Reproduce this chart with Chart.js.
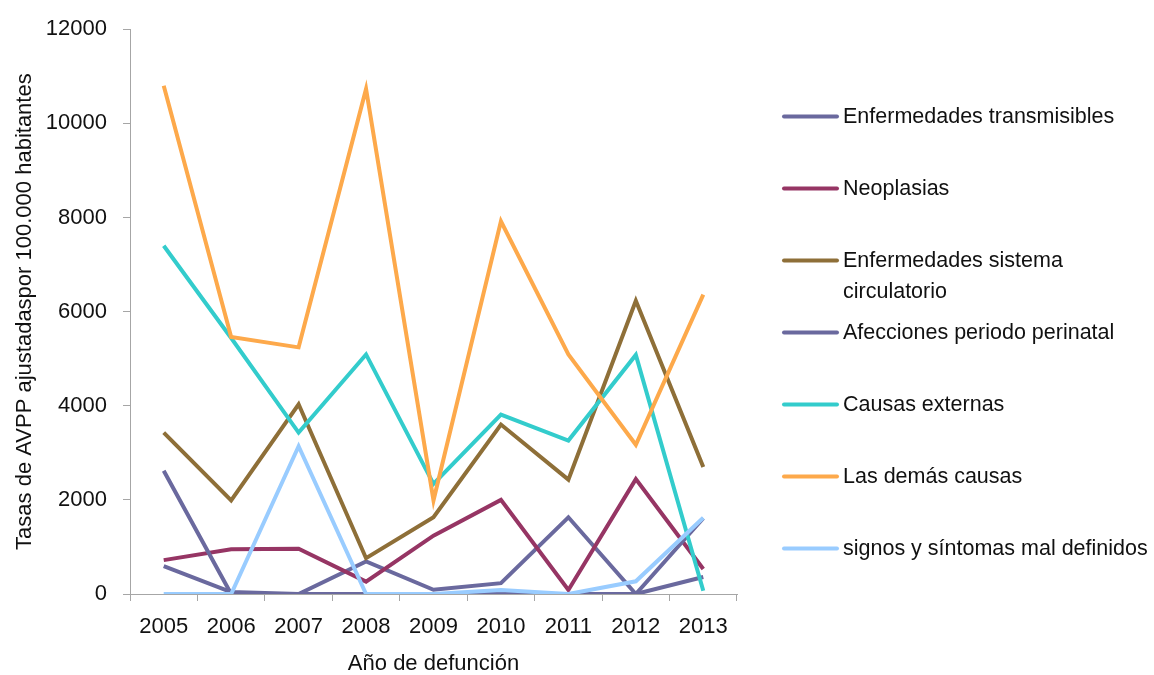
<!DOCTYPE html>
<html lang="es">
<head>
<meta charset="utf-8">
<title>Tasas de AVPP por grandes causas</title>
<script src="https://cdn.jsdelivr.net/npm/chart.js@4.4.1/dist/chart.umd.min.js"></script>
<style>
  html, body { margin: 0; padding: 0; background: #ffffff; }
  #wrap { width: 1154px; height: 675px; }
</style>
</head>
<body>
<div id="wrap"><canvas id="chart" width="1154" height="675"></canvas></div>
<script>
// Years of death (x categories)
const years = ['2005', '2006', '2007', '2008', '2009', '2010', '2011', '2012', '2013'];

// Adjusted YLL rates per 100.000 inhabitants, by cause group
const transmisibles = [590, 40, 0, 690, 90, 230, 1630, 0, 360];
const neoplasias    = [720, 950, 960, 262, 1240, 2000, 85, 2440, 530];
const circulatorio  = [3430, 1990, 4030, 760, 1630, 3600, 2430, 6230, 2700];
const perinatal     = [2620, 0, 0, 0, 0, 0, 0, 0, 1610];
const externas      = [7400, 5440, 3430, 5090, 2340, 3810, 3260, 5080, 70];
const demas         = [10800, 5460, 5240, 10730, 1990, 7920, 5090, 3170, 6360];
const signos        = [0, 0, 3140, 0, 0, 85, 0, 270, 1620];

// Y-axis tick values
const yTicks = [0, 2000, 4000, 6000, 8000, 10000, 12000];

const seriesLabels = [
  'Enfermedades transmisibles',
  'Neoplasias',
  'Enfermedades sistema circulatorio',
  'Afecciones periodo perinatal',
  'Causas externas',
  'Las demás causas',
  'signos y síntomas mal definidos'
];
const seriesValues = [transmisibles, neoplasias, circulatorio, perinatal, externas, demas, signos];
const seriesColors = ['#6a699e', '#963564', '#8e6f38', '#6a699e', '#33cccc', '#fda94b', '#99ccff'];

const FAMILY = "'Liberation Sans', Arial, sans-serif";
const FS = 22;
const LEGEND_FS = 21.5;
const TEXT = '#111111';
const AXIS = '#a6a6a6';

const datasets = seriesLabels.map((label, i) => ({
  label,
  data: seriesValues[i],
  borderColor: seriesColors[i],
  backgroundColor: seriesColors[i],
  borderWidth: 4,
  pointRadius: 0,
  pointHoverRadius: 0,
  tension: 0,
  fill: false,
  borderJoinStyle: 'miter',
  // later series are painted over earlier ones
  order: seriesLabels.length - i
}));

// Legend on the right, one entry per series with word wrapping
const sideLegend = {
  id: 'sideLegend',
  afterDraw(chart) {
    const ctx = chart.ctx;
    const lineX0 = 784, lineX1 = 837, textX = 843;
    const firstY = 116.5, stepY = 72, lineGap = 31, maxW = 318;
    ctx.save();
    ctx.font = LEGEND_FS + 'px ' + FAMILY;
    ctx.textBaseline = 'middle';
    ctx.textAlign = 'left';
    chart.data.datasets.forEach((ds, i) => {
      const y = firstY + i * stepY;
      ctx.strokeStyle = ds.borderColor;
      ctx.lineWidth = 4;
      ctx.lineCap = 'round';
      ctx.beginPath();
      ctx.moveTo(lineX0, y);
      ctx.lineTo(lineX1, y);
      ctx.stroke();
      // wrap label into lines that fit the legend width
      const words = ds.label.split(' ');
      const lines = [];
      let cur = '';
      words.forEach(w => {
        const test = cur ? cur + ' ' + w : w;
        if (cur && ctx.measureText(test).width > maxW) { lines.push(cur); cur = w; }
        else cur = test;
      });
      if (cur) lines.push(cur);
      ctx.fillStyle = TEXT;
      lines.forEach((ln, k) => ctx.fillText(ln, textX, y + k * lineGap + 1));
    });
    ctx.restore();
  }
};

new Chart(document.getElementById('chart'), {
  type: 'line',
  data: { labels: years, datasets },
  options: {
    responsive: false,
    animation: false,
    devicePixelRatio: 1,
    layout: { padding: { top: 27, right: 417, bottom: 0, left: 0 } },
    plugins: {
      legend: { display: false },
      tooltip: { enabled: false }
    },
    scales: {
      x: {
        offset: true,
        grid: { offset: true, drawOnChartArea: false, tickLength: 7, color: AXIS, lineWidth: 1 },
        border: { color: AXIS, width: 1 },
        ticks: { color: TEXT, font: { family: FAMILY, size: FS }, padding: 13, maxRotation: 0, autoSkip: false },
        title: {
          display: true, text: 'Año de defunción', color: TEXT,
          font: { family: FAMILY, size: FS, lineHeight: 1 }, padding: { top: 0, bottom: 0 }
        },
        afterFit(scale) { scale.height = 81; }
      },
      y: {
        min: 0,
        max: 12000,
        afterBuildTicks(scale) { scale.ticks = yTicks.map(v => ({ value: v })); },
        grid: { drawOnChartArea: false, tickLength: 7, color: AXIS, lineWidth: 1 },
        border: { color: AXIS, width: 1 },
        ticks: { color: TEXT, font: { family: FAMILY, size: FS }, padding: 16, callback: v => String(v) },
        title: {
          display: true, text: 'Tasas de AVPP ajustadaspor 100.000 habitantes', color: TEXT,
          font: { family: FAMILY, size: FS, lineHeight: 1.2 }, padding: { top: 12, bottom: 0 }
        },
        afterFit(scale) { scale.width = 130; }
      }
    }
  },
  plugins: [sideLegend]
});
</script>
</body>
</html>
